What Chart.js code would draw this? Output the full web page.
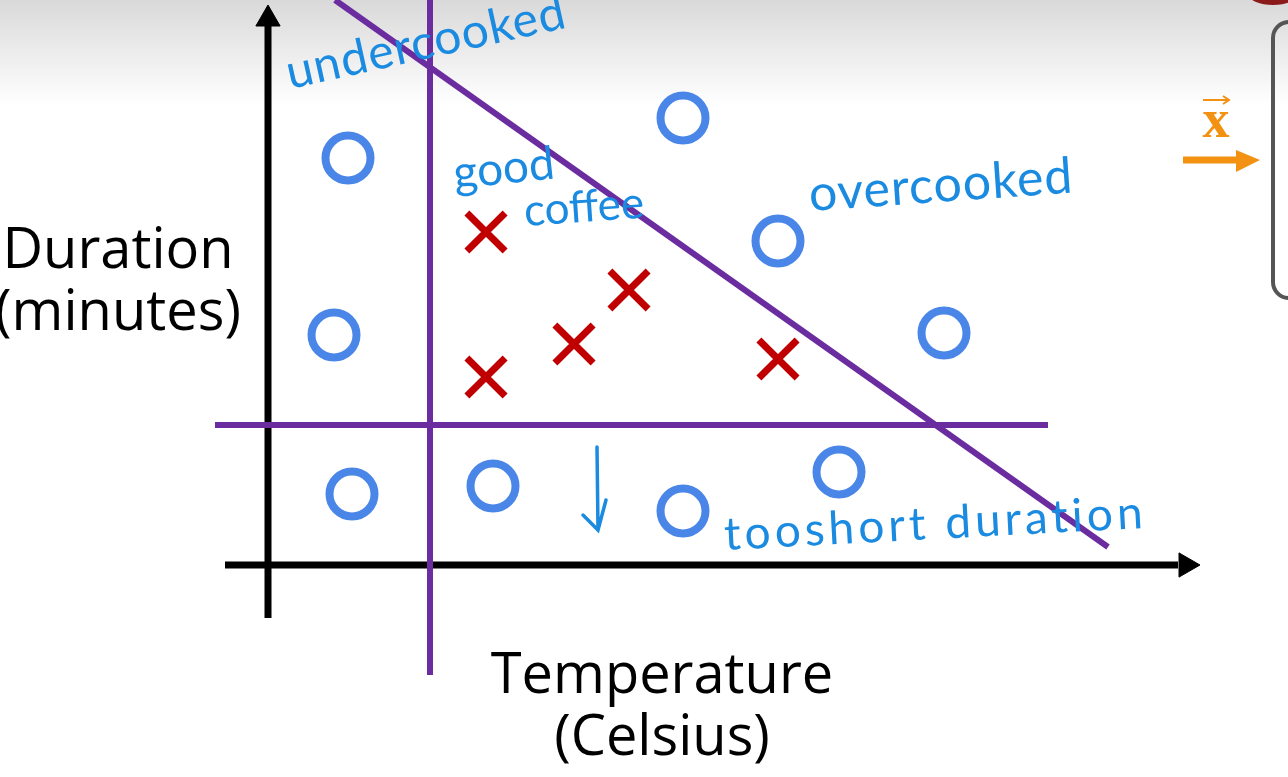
<!DOCTYPE html>
<html>
<head>
<meta charset="utf-8">
<script src="https://cdn.jsdelivr.net/npm/chart.js@4.4.1/dist/chart.umd.min.js"></script>
<style>
  html, body { margin: 0; padding: 0; background: #fff; overflow: hidden; }
  canvas { display: block; }
</style>
</head>
<body>
<canvas id="coffeeChart" width="1288" height="777"></canvas>
<script>
// Roasting examples (arbitrary units, origin at the drawn axes)
const badTemp = [0.80, 4.15, 5.10, 0.66, 6.76, 0.84, 2.25, 4.15, 5.71];
const badDur  = [4.07, 4.47, 3.24, 2.30, 2.32, 0.71, 0.79, 0.54, 0.93];
const goodTemp = [2.18, 3.61, 3.06, 2.18, 5.10];
const goodDur  = [3.33, 2.75, 2.21, 1.88, 2.06];

// Decision boundaries drawn by hand
const tempCutX = [1.62, 1.62];
const tempCutY = [5.65, -1.10];
const durCutX = [-0.53, 7.80];
const durCutY = [1.40, 1.40];
const diagX = [0.67, 8.40];
const diagY = [5.65, 0.18];

// Axis arrows
const yAxisX = [0, 0];
const yAxisY = [-0.53, 5.40];
const xAxisX = [-0.43, 9.10];
const xAxisY = [0, 0];

const toPoints = (xs, ys) => xs.map((x, i) => ({ x: x, y: ys[i] }));

const PURPLE = '#6a2c9f';
const INK = '#1a8be0';

// Background shading, handwriting and labels
const overlay = {
    id: 'overlay',
    beforeDraw(chart) {
        const ctx = chart.ctx;
        ctx.save();
        ctx.fillStyle = '#fff';
        ctx.fillRect(0, 0, chart.width, chart.height);
        const g = ctx.createLinearGradient(0, 0, 0, 105);
        g.addColorStop(0, '#d9d9d9');
        g.addColorStop(1, 'rgba(255,255,255,1)');
        ctx.fillStyle = g;
        ctx.fillRect(0, 0, chart.width, 105);
        ctx.restore();
    },
    afterDraw(chart) {
        const ctx = chart.ctx;
        const xs = chart.scales.x, ys = chart.scales.y;
        const px = v => xs.getPixelForValue(v);
        const py = v => ys.getPixelForValue(v);

        function write(text, x, y, angle, font, color, align, spacing) {
            ctx.save();
            ctx.translate(px(x), py(y));
            ctx.rotate(angle * Math.PI / 180);
            ctx.font = font;
            ctx.fillStyle = color;
            ctx.textAlign = align || 'left';
            ctx.textBaseline = 'alphabetic';
            if (spacing) ctx.letterSpacing = spacing;
            ctx.fillText(text, 0, 0);
            ctx.restore();
        }

        // hand notes
        write('undercooked', 0.22, 4.76, -12.5, '48px Lato', INK, 'left', '1px');
        write('good', 1.87, 3.76, -6, '46px Lato', INK);
        write('coffee', 2.57, 3.39, -4, '44px Lato', INK);
        write('overcooked', 5.42, 3.54, -4, '50px Lato', INK, 'left', '1px');
        write('tooshort duration', 4.57, 0.15, -3, '46px Lato', INK, 'left', '4px');

        // hand-drawn down arrow
        ctx.save();
        ctx.strokeStyle = INK;
        ctx.lineWidth = 3.5;
        ctx.lineCap = 'round';
        ctx.beginPath();
        ctx.moveTo(px(3.29), py(1.18));
        ctx.lineTo(px(3.30), py(0.35));
        ctx.moveTo(px(3.15), py(0.50));
        ctx.lineTo(px(3.30), py(0.35));
        ctx.lineTo(px(3.38), py(0.65));
        ctx.stroke();
        ctx.restore();

        // axis titles
        const title = '56px "Open Sans"';
        write('Duration', -1.50, 2.97, 0, title, '#000', 'center');
        write('(minutes)', -1.50, 2.35, 0, title, '#000', 'center');
        write('Temperature', 3.94, -1.28, 0, title, '#000', 'center');
        write('(Celsius)', 3.94, -1.90, 0, title, '#000', 'center');

        // next slide element on the right edge
        ctx.save();
        ctx.strokeStyle = '#555';
        ctx.lineWidth = 4;
        ctx.beginPath();
        ctx.roundRect(px(10.05), py(5.43), 60, py(2.67) - py(5.43), 16);
        ctx.stroke();
        ctx.fillStyle = '#f39112';
        ctx.strokeStyle = '#f39112';
        ctx.font = 'bold 54px "Liberation Serif"';
        ctx.textAlign = 'center';
        ctx.fillText('x', px(9.48), py(4.28));
        ctx.lineWidth = 2;
        ctx.beginPath();
        ctx.moveTo(px(9.35), py(4.65));
        ctx.lineTo(px(9.61), py(4.65));
        ctx.moveTo(px(9.55), py(4.69));
        ctx.lineTo(px(9.61), py(4.65));
        ctx.lineTo(px(9.55), py(4.61));
        ctx.stroke();
        ctx.lineWidth = 7;
        ctx.beginPath();
        ctx.moveTo(px(9.15), py(4.05));
        ctx.lineTo(px(9.70), py(4.05));
        ctx.stroke();
        ctx.beginPath();
        ctx.moveTo(px(9.68), py(4.15));
        ctx.lineTo(px(9.92), py(4.05));
        ctx.lineTo(px(9.68), py(3.93));
        ctx.closePath();
        ctx.fill();
        ctx.fillStyle = '#8b1a1a';
        ctx.beginPath();
        ctx.ellipse(px(10.05), py(5.70), 24, 10, 0, 0, Math.PI * 2);
        ctx.fill();
        ctx.restore();
    }
};

const lineStyle = (color, width) => ({
    showLine: true,
    borderColor: color,
    borderWidth: width,
    pointRadius: 0,
    fill: false,
    tension: 0
});

new Chart(document.getElementById('coffeeChart'), {
    type: 'scatter',
    data: {
        datasets: [
            Object.assign({ label: 'y axis', data: toPoints(yAxisX, yAxisY), order: 9 }, lineStyle('#000', 7)),
            Object.assign({ label: 'x axis', data: toPoints(xAxisX, xAxisY), order: 9 }, lineStyle('#000', 7)),
            {
                label: 'arrow heads',
                data: [{ x: 0, y: 5.46 }, { x: 9.18, y: 0 }],
                pointStyle: 'triangle',
                rotation: [0, 90],
                pointRadius: 14,
                backgroundColor: '#000',
                borderColor: '#000',
                borderWidth: 1,
                order: 8
            },
            Object.assign({ label: 'temperature cut', data: toPoints(tempCutX, tempCutY), order: 7 }, lineStyle(PURPLE, 6)),
            Object.assign({ label: 'duration cut', data: toPoints(durCutX, durCutY), order: 7 }, lineStyle(PURPLE, 6)),
            Object.assign({ label: 'diagonal cut', data: toPoints(diagX, diagY), order: 7 }, lineStyle(PURPLE, 6)),
            {
                label: 'bad coffee',
                data: toPoints(badTemp, badDur),
                pointStyle: 'circle',
                pointRadius: 22.5,
                borderWidth: 8,
                borderColor: '#4a86e8',
                backgroundColor: 'rgba(0,0,0,0)',
                order: 1
            },
            {
                label: 'good coffee',
                data: toPoints(goodTemp, goodDur),
                pointStyle: 'crossRot',
                pointRadius: 27,
                borderWidth: 7,
                borderColor: '#c00000',
                order: 1
            }
        ]
    },
    options: {
        responsive: false,
        animation: false,
        events: [],
        clip: false,
        layout: { padding: 0, autoPadding: false },
        plugins: { legend: { display: false }, tooltip: { enabled: false } },
        scales: {
            x: { type: 'linear', min: -2.68, max: 10.20, display: false },
            y: { type: 'linear', min: -2.12, max: 5.65, display: false }
        }
    },
    plugins: [overlay]
});
</script>
</body>
</html>
